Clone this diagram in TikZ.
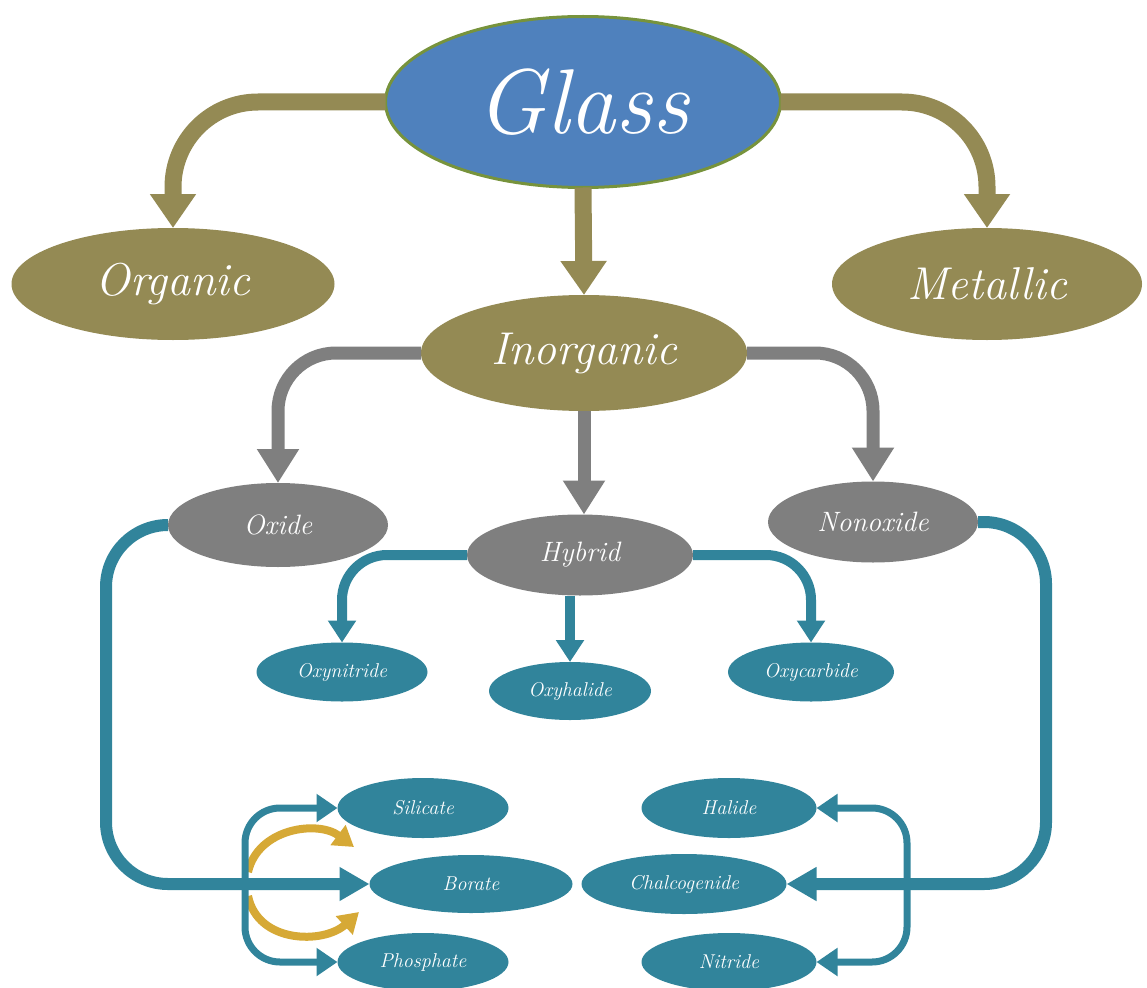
\documentclass[tikz,border=0pt]{standalone}
\usetikzlibrary{shapes.geometric,arrows.meta}
\definecolor{olivec}{HTML}{948A54}
\definecolor{greyc}{HTML}{7F7F7F}
\definecolor{tealc}{HTML}{31849B}
\definecolor{bluec}{HTML}{4F81BD}
\definecolor{greenc}{HTML}{77933C}
\definecolor{goldc}{HTML}{D6A936}
\newcommand\myfs[1]{\fontsize{#1}{#1}\selectfont}
\begin{document}
\begin{tikzpicture}[x=1pt,y=-1pt,
  oval/.style={ellipse, inner sep=0pt, outer sep=0pt, text=white, font=\itshape},
  lvl1/.style={oval, fill=olivec, font=\itshape\myfs{46}},
  lvl2/.style={oval, fill=greyc, font=\itshape\myfs{28}},
  lvl3/.style={oval, fill=tealc, font=\itshape\myfs{20}},
  olivearrow/.style={draw=olivec, line width=17pt, -{Triangle[width=44pt,length=34pt]}, rounded corners=85pt},
  greyarrow/.style={draw=greyc, line width=13pt, -{Triangle[width=40pt,length=34pt]}, rounded corners=58pt},
  hybarrow/.style={draw=tealc, line width=10pt, -{Triangle[width=27pt,length=22pt]}, rounded corners=45pt},
  mainarrow/.style={draw=tealc, line width=12pt, -{Triangle[width=32pt,length=30pt]}, rounded corners=62pt},
  brarrow/.style={draw=tealc, line width=7pt, -{Triangle[width=27pt,length=21pt]}, rounded corners=35pt},
  goldarrow/.style={draw=goldc, line width=8pt, -{Triangle[width=24pt,length=20pt]}}
]
\useasboundingbox (0,0) rectangle (1147,987);

% nodes
\node[oval, fill=bluec, draw=greenc, line width=3pt, minimum width=395pt, minimum height=171pt, font=\itshape\myfs{92}] (glass) at (583,102) {Glass};
\node[lvl1, minimum width=323pt, minimum height=112pt] (organic) at (173,284) {Organic};
\node[lvl1, minimum width=310pt, minimum height=112pt] (metallic) at (987,284) {Metallic};
\node[lvl1, minimum width=326pt, minimum height=116pt] (inorganic) at (584,353) {Inorganic};

\node[lvl2, minimum width=220pt, minimum height=84pt] (oxide) at (278,525) {Oxide};
\node[lvl2, minimum width=226pt, minimum height=81pt] (hybrid) at (580,555) {Hybrid};
\node[lvl2, minimum width=210pt, minimum height=81pt] (nonoxide) at (873,522) {Nonoxide};

\node[lvl3, minimum width=171pt, minimum height=59pt] (oxynitride) at (342,672) {Oxynitride};
\node[lvl3, minimum width=162pt, minimum height=58pt] (oxyhalide) at (570,691) {Oxyhalide};
\node[lvl3, minimum width=166pt, minimum height=59pt] (oxycarbide) at (811,672) {Oxycarbide};

\node[lvl3, minimum width=171pt, minimum height=60pt] (silicate) at (423,808) {Silicate};
\node[lvl3, minimum width=203pt, minimum height=58pt] (borate) at (471,884) {Borate};
\node[lvl3, minimum width=171pt, minimum height=58pt] (phosphate) at (423,962) {Phosphate};
\node[lvl3, minimum width=175pt, minimum height=60pt] (halide) at (729,808) {Halide};
\node[lvl3, minimum width=205pt, minimum height=60pt] (chalcogenide) at (684,884) {Chalcogenide};
\node[lvl3, minimum width=175pt, minimum height=58pt] (nitride) at (729,962) {Nitride};

% coordinates
\coordinate (lcorner) at (106,884);
\coordinate (rcorner) at (1046,884);
\coordinate (lbr) at (245,884);
\coordinate (rbr) at (907,884);
\coordinate (g1s) at (248,872);
\coordinate (g1e) at (354,847);
\coordinate (g2s) at (248,896);
\coordinate (g2e) at (359,912);

% connectors
\draw[olivearrow] (glass.west) -| (organic.north);
\draw[olivearrow] (glass.east) -| (metallic.north);
\draw[olivearrow] (glass.south) -- (inorganic.north);

\draw[greyarrow] (inorganic.west) -| (oxide.north);
\draw[greyarrow] (inorganic.south) -- (hybrid.north -| inorganic.south);
\draw[greyarrow] (inorganic.east) -| (nonoxide.north);

\draw[hybarrow] (hybrid.west) -| (oxynitride.north);
\draw[hybarrow] (hybrid.south -| oxyhalide.north) -- (oxyhalide.north);
\draw[hybarrow] (hybrid.east) -| (oxycarbide.north);

\draw[goldarrow] (g1s) .. controls (258,828) and (318,820) .. (g1e);
\draw[goldarrow] (g2s) .. controls (258,944) and (324,944) .. (g2e);

\draw[mainarrow] (oxide.west) -| (lcorner) -- (borate.west);
\draw[mainarrow] (nonoxide.east) -| (rcorner) -- (chalcogenide.east);

\draw[brarrow] (lbr) |- (silicate.west);
\draw[brarrow] (lbr) |- (phosphate.west);
\draw[brarrow] (rbr) |- (halide.east);
\draw[brarrow] (rbr) |- (nitride.east);
\end{tikzpicture}
\end{document}
